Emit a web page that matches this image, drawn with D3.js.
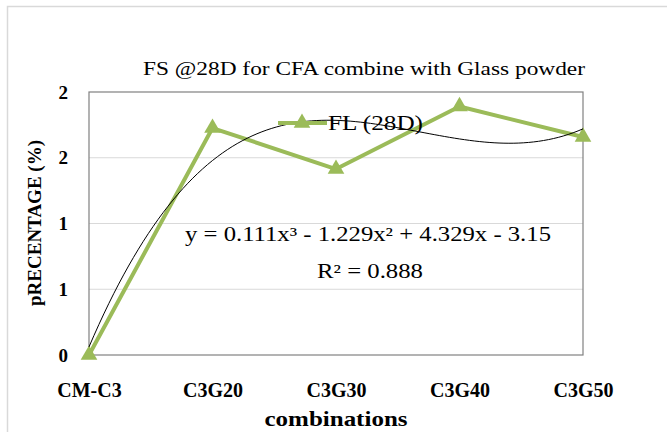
<!DOCTYPE html>
<html>
<head>
<meta charset="utf-8">
<script src="https://cdn.jsdelivr.net/npm/d3@7"></script>
<style>
  body { margin: 0; background: #fff; }
  text { font-family: "Liberation Serif", "Times New Roman", serif; fill: #000; }
  .tick-label { font-weight: bold; font-size: 19px; }
</style>
</head>
<body>
<svg id="chart" width="667" height="432"></svg>
<script>
// data
const categories = ["CM-C3", "C3G20", "C3G30", "C3G40", "C3G50"];
const flValues = [0, 1.726, 1.414, 1.89, 1.658];
const yTicks = [0, 0.5, 1, 1.5, 2];
const yTickLabels = ["0", "1", "1", "2", "2"];
const seriesName = "FL (28D)";
const equationText = "y = 0.111x\u00B3 - 1.229x\u00B2 + 4.329x - 3.15";
const rSquaredText = "R\u00B2 = 0.888";

const svg = d3.select("#chart");
const margin = {top: 92, right: 84, bottom: 77, left: 89};
const width = 667 - margin.left - margin.right;
const height = 432 - margin.top - margin.bottom;
const green = "#9bbb59";

svg.append("rect")
   .attr("x", 7.5).attr("y", 6.5)
   .attr("width", 700).attr("height", 460)
   .attr("fill", "#fff")
   .attr("stroke", "#d9d9d9")
   .attr("stroke-width", 1.5);

const g = svg.append("g")
             .attr("transform", "translate(" + margin.left + "," + margin.top + ")");

let x = d3.scalePoint().domain(categories).range([0, width]);
let y = d3.scaleLinear().domain([0, 2]).range([height, 0]);
// trendline runs on the category index 1..n like excel does
let xIndex = d3.scaleLinear().domain([1, categories.length]).range([0, width]);

// gridlines
g.append("g")
 .selectAll("line")
 .data(yTicks.slice(1, -1))
 .enter()
 .append("line")
 .attr("x1", 0).attr("x2", width)
 .attr("y1", d => y(d)).attr("y2", d => y(d))
 .attr("stroke", "#d9d9d9")
 .attr("stroke-width", 1);

g.append("rect")
 .attr("width", width).attr("height", height)
 .attr("fill", "none")
 .attr("stroke", "#808080")
 .attr("stroke-width", 1.2);

// axes
let yAxis = g.append("g")
             .call(d3.axisLeft(y).tickValues(yTicks)
                     .tickFormat((d, i) => yTickLabels[i])
                     .tickSize(0).tickPadding(21));
yAxis.select(".domain").remove();
yAxis.selectAll("text").attr("class", "tick-label").attr("font-size", null).attr("font-family", null);

let xAxis = g.append("g")
             .attr("transform", "translate(0," + height + ")")
             .call(d3.axisBottom(x).tickSize(0).tickPadding(28));
xAxis.select(".domain").remove();
xAxis.selectAll("text").attr("class", "tick-label").attr("font-size", null).attr("font-family", null)
     .style("font-size", "20px");

// titles
svg.append("text")
   .attr("x", 364).attr("y", 75)
   .attr("text-anchor", "middle")
   .attr("font-size", "18px")
   .attr("textLength", 442)
   .attr("lengthAdjust", "spacingAndGlyphs")
   .text("FS @28D  for  CFA combine with Glass powder");

svg.append("text")
   .attr("transform", "translate(41,223) rotate(-90)")
   .attr("text-anchor", "middle")
   .attr("font-weight", "bold")
   .attr("font-size", "19px")
   .text("pRECENTAGE (%)");

svg.append("text")
   .attr("x", 336).attr("y", 426)
   .attr("text-anchor", "middle")
   .attr("font-weight", "bold")
   .attr("font-size", "21px")
   .attr("textLength", 143)
   .attr("lengthAdjust", "spacingAndGlyphs")
   .text("combinations");

// series
let line = d3.line()
             .x((d, i) => x(categories[i]))
             .y(d => y(d));

g.append("path")
 .datum(flValues)
 .attr("fill", "none")
 .attr("stroke", green)
 .attr("stroke-width", 4)
 .attr("stroke-linejoin", "round")
 .attr("d", line);

let triangle = d3.symbol().type(d3.symbolTriangle).size(120);

g.append("g")
 .selectAll("path")
 .data(flValues)
 .enter()
 .append("path")
 .attr("fill", green)
 .attr("transform", (d, i) => "translate(" + x(categories[i]) + "," + y(d) + ")")
 .attr("d", triangle);

// legend, overlaid on the plot
let legend = svg.append("g");
legend.append("line")
      .attr("x1", 278).attr("x2", 327)
      .attr("y1", 123).attr("y2", 123)
      .attr("stroke", green).attr("stroke-width", 4);
legend.append("path")
      .attr("fill", green)
      .attr("transform", "translate(302,123)")
      .attr("d", triangle);
legend.append("text")
      .attr("x", 328).attr("y", 130)
      .attr("font-size", "22px")
      .attr("textLength", 95)
      .attr("lengthAdjust", "spacingAndGlyphs")
      .text(seriesName);

// cubic least squares fit of the series, x = 1..n
function polyFit(ys, degree) {
    let n = degree + 1;
    let A = [];
    for (let r = 0; r < n; r++) {
        A.push([]);
        for (let c = 0; c <= n; c++) A[r].push(0);
    }
    ys.forEach((v, i) => {
        let xv = i + 1;
        for (let r = 0; r < n; r++) {
            for (let c = 0; c < n; c++) A[r][c] += Math.pow(xv, r + c);
            A[r][n] += v * Math.pow(xv, r);
        }
    });
    for (let p = 0; p < n; p++) {
        let best = p;
        for (let r = p + 1; r < n; r++) if (Math.abs(A[r][p]) > Math.abs(A[best][p])) best = r;
        [A[p], A[best]] = [A[best], A[p]];
        for (let r = 0; r < n; r++) {
            if (r === p) continue;
            let f = A[r][p] / A[p][p];
            for (let c = p; c <= n; c++) A[r][c] -= f * A[p][c];
        }
    }
    return A.map((row, r) => row[n] / row[r]);
}

let coef = polyFit(flValues, 3);
let trendPoints = d3.range(1, categories.length + 0.001, 0.04);
let trendLine = d3.line()
                  .x(d => xIndex(d))
                  .y(d => y(coef.reduce((s, c, k) => s + c * Math.pow(d, k), 0)))
                  .curve(d3.curveMonotoneX);

g.append("path")
 .datum(trendPoints)
 .attr("fill", "none")
 .attr("stroke", "#000")
 .attr("stroke-width", 1)
 .attr("d", trendLine);

// trendline label
svg.append("text")
   .attr("x", 368).attr("y", 241)
   .attr("text-anchor", "middle")
   .attr("font-size", "20px")
   .attr("textLength", 366)
   .attr("lengthAdjust", "spacingAndGlyphs")
   .text(equationText);

svg.append("text")
   .attr("x", 370).attr("y", 278)
   .attr("text-anchor", "middle")
   .attr("font-size", "20px")
   .attr("textLength", 106)
   .attr("lengthAdjust", "spacingAndGlyphs")
   .text(rSquaredText);
</script>
</body>
</html>
